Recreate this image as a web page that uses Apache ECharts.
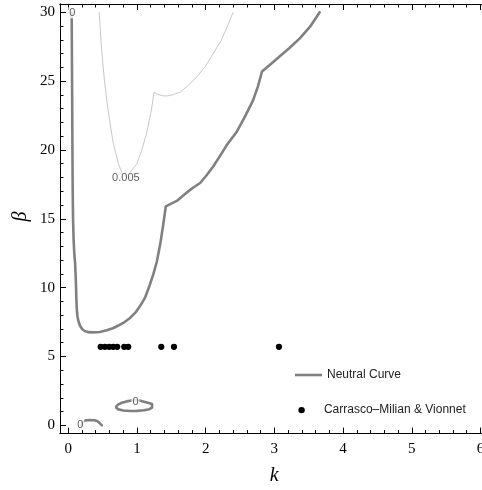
<!DOCTYPE html>
<html>
<head>
<meta charset="utf-8">
<script src="https://cdn.jsdelivr.net/npm/echarts@6/dist/echarts.min.js"></script>
<style>
  html, body { margin: 0; padding: 0; background: #fff; }
  #chart { width: 482px; height: 490px; }
</style>
</head>
<body>
<div id="chart"></div>
<script>
// Axis tick labels
const kTicks = [0, 1, 2, 3, 4, 5, 6];
const betaTicks = [0, 5, 10, 15, 20, 25, 30];

// Neutral curve (zero contour): main branch
const neutralMainK = [0.05, 0.053, 0.057, 0.061, 0.065, 0.07, 0.078, 0.09, 0.1, 0.107, 0.115, 0.122, 0.132, 0.146, 0.17, 0.2, 0.24, 0.29, 0.36, 0.46, 0.56, 0.65, 0.73, 0.82, 0.9, 0.98, 1.05, 1.12, 1.18, 1.24, 1.29, 1.34, 1.38, 1.42, 1.5, 1.58, 1.7, 1.8, 1.92, 2.02, 2.11, 2.2, 2.3, 2.45, 2.57, 2.69, 2.76, 2.82, 2.95, 3.08, 3.22, 3.37, 3.52, 3.66];
const neutralMainBeta = [30.0, 27.0, 24.0, 20.0, 17.0, 15.0, 13.5, 12.3, 11.8, 11.0, 9.8, 8.6, 8.0, 7.6, 7.25, 7.0, 6.85, 6.77, 6.75, 6.78, 6.9, 7.05, 7.25, 7.5, 7.8, 8.2, 8.7, 9.3, 10.1, 11.0, 11.9, 13.2, 14.5, 15.9, 16.1, 16.3, 16.8, 17.2, 17.6, 18.2, 18.8, 19.5, 20.3, 21.3, 22.4, 23.6, 24.6, 25.7, 26.25, 26.8, 27.4, 28.1, 28.95, 30.0];

// Neutral curve: small closed loop near k = 1
const neutralLoopK = [0.70, 0.73, 0.78, 0.85, 0.92, 0.97, 1.04, 1.10, 1.17, 1.22, 1.23, 1.22, 1.18, 1.10, 1.00, 0.90, 0.80, 0.73, 0.70, 0.70];
const neutralLoopBeta = [1.38, 1.52, 1.64, 1.74, 1.81, 1.84, 1.80, 1.72, 1.62, 1.55, 1.42, 1.28, 1.17, 1.10, 1.05, 1.04, 1.08, 1.16, 1.27, 1.38];

// Neutral curve: small arc near the origin
const neutralArcK = [0.19, 0.20, 0.22, 0.26, 0.32, 0.38, 0.42, 0.45, 0.48, 0.49];
const neutralArcBeta = [0.0, 0.15, 0.30, 0.37, 0.38, 0.37, 0.32, 0.20, 0.05, 0.0];

// Growth-rate contour at 0.005
const contour005K = [0.45, 0.486, 0.52, 0.56, 0.61, 0.655, 0.73, 0.77, 0.80, 0.83, 0.87, 0.91, 0.95, 1.0, 1.07, 1.14, 1.21, 1.25, 1.3, 1.38, 1.45, 1.53, 1.63, 1.75, 1.87, 2.0, 2.11, 2.22, 2.31, 2.40];
const contour005Beta = [30.0, 27.25, 25.4, 23.6, 21.9, 20.5, 19.0, 18.5, 18.25, 18.15, 18.25, 18.45, 18.7, 19.0, 20.0, 21.2, 22.9, 24.2, 24.05, 23.93, 23.93, 24.02, 24.2, 24.7, 25.3, 26.1, 27.0, 27.9, 28.9, 30.0];

// Experimental points (Carrasco-Milian & Vionnet)
const experimentK = [0.472, 0.534, 0.597, 0.655, 0.713, 0.815, 0.873, 1.354, 1.539, 3.067];
const experimentBeta = [5.7, 5.7, 5.7, 5.7, 5.7, 5.7, 5.7, 5.7, 5.7, 5.7];

// Contour level labels
const contourLabelK = [0.058, 0.978, 0.175, 0.839];
const contourLabelBeta = [29.96, 1.69, 0.06, 18.0];
const contourLabelText = ['0', '0', '0', '0.005'];

const zip = (xs, ys) => xs.map((x, i) => [x, ys[i]]);

const K_MIN = -0.12, K_MAX = 6.12;
const B_MIN = -0.6, B_MAX = 30.6;

function minorValues(lo, hi, step, majorStep) {
  const out = [];
  const n = Math.round((hi - lo) / step);
  for (let i = 0; i <= n; i++) {
    const v = +(lo + i * step).toFixed(6);
    if (Math.abs(v / majorStep - Math.round(v / majorStep)) > 1e-6) out.push(v);
  }
  return out;
}
const kMinor = minorValues(0, 6, 0.2, 1);
const betaMinor = minorValues(0, 30, 1, 5);

const serif = '"Liberation Serif", "Times New Roman", serif';
const sans = '"Liberation Sans", Arial, sans-serif';

function xAx(position, ticks, len, labels) {
  return {
    type: 'value', position: position, min: K_MIN, max: K_MAX,
    axisLine: { show: true, onZero: false, lineStyle: { color: '#000', width: 1 } },
    axisTick: { show: true, inside: true, length: len, customValues: ticks, lineStyle: { color: '#000', width: 1 } },
    axisLabel: labels ? { show: true, customValues: ticks, margin: 8, color: '#000', fontSize: 15, fontFamily: serif } : { show: false },
    splitLine: { show: false }
  };
}
function yAx(position, ticks, len, labels) {
  return {
    type: 'value', position: position, min: B_MIN, max: B_MAX,
    axisLine: { show: true, onZero: false, lineStyle: { color: '#000', width: 1 } },
    axisTick: { show: true, inside: true, length: len, customValues: ticks, lineStyle: { color: '#000', width: 1 } },
    axisLabel: labels ? { show: true, customValues: ticks, margin: 5, color: '#000', fontSize: 15, fontFamily: serif } : { show: false },
    splitLine: { show: false }
  };
}

const neutralStyle = { color: '#808080', width: 2.6, cap: 'round', join: 'round' };

const option = {
  animation: false,
  backgroundColor: '#fff',
  grid: { left: 60, top: 4, width: 428.7, height: 429.6, containLabel: false, outerBoundsMode: 'none' },
  xAxis: [
    xAx('bottom', kTicks, 6, true),
    xAx('bottom', kMinor, 3.5, false),
    xAx('top', kTicks, 6, false),
    xAx('top', kMinor, 3.5, false)
  ],
  yAxis: [
    yAx('left', betaTicks, 6, true),
    yAx('left', betaMinor, 3.5, false)
  ],
  legend: [
    {
      data: [{ name: 'Neutral Curve', icon: 'rect' }], left: 295, top: 369, padding: 0,
      itemWidth: 27, itemHeight: 2.6, selectedMode: false,
      itemStyle: { color: '#808080', borderWidth: 0 },
      textStyle: { fontSize: 12, fontFamily: sans, color: '#222' }
    },
    {
      data: [{ name: 'Carrasco\u2013Milian & Vionnet', icon: 'circle' }], left: 298.4, top: 404.1, padding: 0,
      itemWidth: 34.6, itemHeight: 6.4, selectedMode: false,
      itemStyle: { color: '#000', opacity: 1, borderWidth: 0 },
      textStyle: { fontSize: 12, fontFamily: sans, color: '#222' }
    }
  ],
  graphic: [
    { type: 'text', x: 274.3, y: 476, style: { text: 'k', fontSize: 20, fontStyle: 'italic', fontFamily: serif, fill: '#000', align: 'center', verticalAlign: 'middle' } },
    { type: 'text', x: 20.5, y: 216.5, rotation: Math.PI / 2, style: { text: '\u03b2', fontSize: 20, fontStyle: 'italic', fontFamily: serif, fill: '#000', align: 'center', verticalAlign: 'middle' } }
  ],
  series: [
    {
      name: 'growth 0.005', type: 'line', data: zip(contour005K, contour005Beta),
      symbol: 'none', lineStyle: { color: '#c8c8c8', width: 1 }, z: 2, silent: true
    },
    {
      name: 'Neutral Curve', type: 'line', data: zip(neutralMainK, neutralMainBeta),
      symbol: 'none', lineStyle: neutralStyle, itemStyle: { color: '#808080' }, z: 3, silent: true
    },
    {
      name: 'Neutral Curve', type: 'line', data: zip(neutralLoopK, neutralLoopBeta),
      symbol: 'none', lineStyle: neutralStyle, itemStyle: { color: '#808080' }, z: 3, silent: true
    },
    {
      name: 'Neutral Curve', type: 'line', data: zip(neutralArcK, neutralArcBeta),
      symbol: 'none', lineStyle: neutralStyle, itemStyle: { color: '#808080' }, z: 3, silent: true
    },
    {
      name: 'Carrasco\u2013Milian & Vionnet', type: 'scatter', data: zip(experimentK, experimentBeta),
      symbol: 'circle', symbolSize: 6.2, itemStyle: { color: '#000', opacity: 1 }, z: 4, silent: true
    },
    {
      name: 'contour labels', type: 'scatter', symbolSize: 0, z: 5, silent: true,
      data: contourLabelK.map((k, i) => ({ value: [k, contourLabelBeta[i]], name: contourLabelText[i] })),
      label: {
        show: true, position: 'inside', formatter: p => p.name,
        fontSize: 11, fontFamily: sans, color: '#333',
        backgroundColor: '#fff', padding: [0, 1]
      }
    }
  ]
};

const chart = echarts.init(document.getElementById('chart'), null, { renderer: 'canvas' });
chart.setOption(option);
</script>
</body>
</html>
